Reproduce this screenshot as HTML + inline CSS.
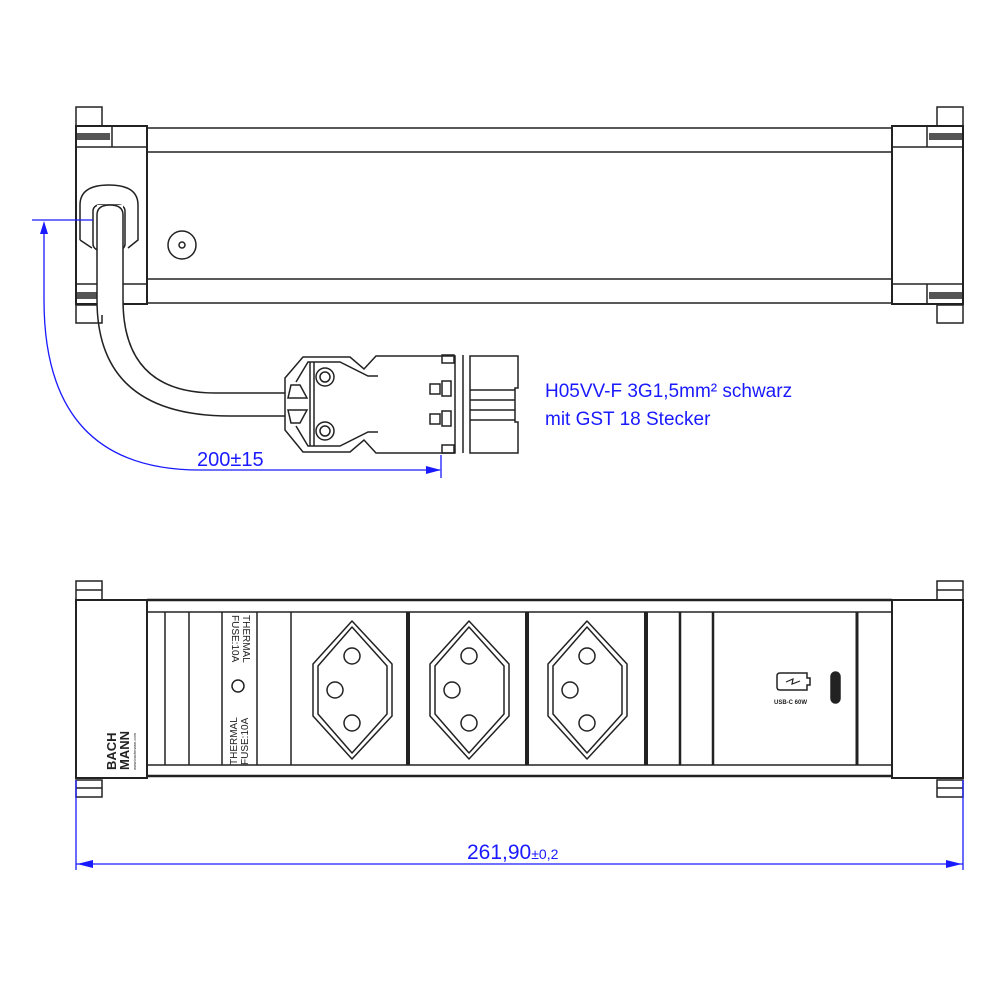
<!DOCTYPE html>
<html><head><meta charset="utf-8"><style>
html,body{margin:0;padding:0;background:#fff}
svg{display:block}
text{font-family:"Liberation Sans",sans-serif}
</style></head><body>
<svg width="1000" height="1000" viewBox="0 0 1000 1000" xmlns="http://www.w3.org/2000/svg">
<g fill="none" stroke="#222" stroke-width="1.5">
<!-- TOP VIEW -->
<rect x="76" y="107" width="26" height="19"/>
<rect x="76" y="305" width="26" height="18"/>
<rect x="937" y="107" width="26" height="19"/>
<rect x="937" y="305" width="26" height="18"/>
<rect x="76" y="126" width="71" height="178" stroke-width="2"/>
<rect x="892" y="126" width="71" height="178" stroke-width="2"/>
<line x1="76" y1="147" x2="147" y2="147"/><line x1="76" y1="284" x2="147" y2="284"/>
<line x1="892" y1="147" x2="963" y2="147"/><line x1="892" y1="284" x2="963" y2="284"/>
<line x1="112" y1="126" x2="112" y2="147"/><line x1="927" y1="126" x2="927" y2="147"/>
<line x1="112" y1="284" x2="112" y2="304"/><line x1="927" y1="284" x2="927" y2="304"/>
<rect x="77" y="133" width="33" height="7" fill="#555" stroke="none"/>
<rect x="77" y="292" width="33" height="7" fill="#555" stroke="none"/>
<rect x="929" y="133" width="33" height="7" fill="#555" stroke="none"/>
<rect x="929" y="292" width="33" height="7" fill="#555" stroke="none"/>
<line x1="147" y1="128" x2="892" y2="128"/>
<line x1="147" y1="152" x2="892" y2="152"/>
<line x1="147" y1="279" x2="892" y2="279"/>
<line x1="147" y1="303" x2="892" y2="303"/>
<path d="M80 240 V205 Q80 185 109 185 Q138 185 138 205 V240 L128 248 M80 240 L92 248"/>
<rect x="93" y="205" width="32" height="45" rx="6"/>
<circle cx="182" cy="245" r="14"/><circle cx="182" cy="245" r="3"/>
<!-- cable -->
<rect x="97" y="205" width="26" height="110" fill="#fff" stroke="none"/>
<path d="M97 215 Q97 205 110 205 Q123 205 123 215 V300 Q123 393 215 393 H285"/>
<path d="M97 215 V300 Q97 416 230 416 H285"/>
<!-- connector -->
<path d="M285 378 L303 357 H350 L364 369 L376 356 H455 V453 H376 L364 440 L350 452 H303 L285 430 Z" fill="#fff"/>
<path d="M296 382 L308 362 H340 L368 376 H378 M296 426 L308 446 H340 L368 432 H378"/>
<line x1="310" y1="362" x2="310" y2="446"/>
<line x1="314" y1="362" x2="314" y2="446"/>
<path d="M288 398 H307 L300 385 H291 Z M288 410 H307 L300 423 H291 Z"/>
<circle cx="325" cy="377" r="9"/><circle cx="325" cy="377" r="5"/>
<circle cx="325" cy="431" r="9"/><circle cx="325" cy="431" r="5"/>
<rect x="430" y="384" width="10" height="10"/><rect x="442" y="381" width="9" height="15"/>
<rect x="430" y="414" width="10" height="10"/><rect x="442" y="411" width="9" height="15"/>
<rect x="442" y="355" width="12" height="8"/><rect x="442" y="445" width="12" height="8"/>
<line x1="463" y1="355" x2="463" y2="453"/>
<path d="M470 356 H518 V388 H515 V422 H518 V453 H470 Z"/>
<line x1="470" y1="390" x2="515" y2="390"/><line x1="470" y1="400" x2="515" y2="400"/><line x1="470" y1="410" x2="515" y2="410"/><line x1="470" y1="420" x2="515" y2="420"/>
<!-- BOTTOM VIEW -->
<rect x="76" y="581" width="26" height="19"/>
<rect x="76" y="780" width="26" height="17"/>
<rect x="937" y="581" width="26" height="19"/>
<rect x="937" y="780" width="26" height="17"/>
<line x1="76" y1="590" x2="102" y2="590"/><line x1="76" y1="788" x2="102" y2="788"/>
<line x1="937" y1="590" x2="963" y2="590"/><line x1="937" y1="788" x2="963" y2="788"/>
<rect x="76" y="600" width="71" height="178" stroke-width="2"/>
<rect x="892" y="600" width="71" height="178" stroke-width="2"/>
<line x1="147" y1="600" x2="892" y2="600" stroke-width="2.5"/>
<line x1="147" y1="612" x2="892" y2="612"/>
<line x1="147" y1="765" x2="892" y2="765"/>
<line x1="147" y1="776" x2="892" y2="776" stroke-width="2.5"/>
<g>
<line x1="165" y1="612" x2="165" y2="765"/><line x1="189" y1="612" x2="189" y2="765"/>
<line x1="222" y1="612" x2="222" y2="765"/><line x1="257" y1="612" x2="257" y2="765"/>
<line x1="291" y1="612" x2="291" y2="765"/>
<line x1="408" y1="612" x2="408" y2="765" stroke-width="4"/>
<line x1="527" y1="612" x2="527" y2="765" stroke-width="4"/>
<line x1="646" y1="612" x2="646" y2="765" stroke-width="4"/>
<line x1="680" y1="612" x2="680" y2="765" stroke-width="2.5"/>
<line x1="713" y1="612" x2="713" y2="765" stroke-width="2.5"/>
<line x1="857" y1="612" x2="857" y2="765" stroke-width="3"/>
</g>
<circle cx="238" cy="686" r="6"/>
<!-- sockets -->
<g id="s">
<path d="M352 621 L392 664 V716 L352 759 L313 716 V664 Z" stroke-linejoin="round"/>
<path d="M352 627 L387 666 V714 L352 753 L318 714 V666 Z" stroke-linejoin="round"/>
<circle cx="352" cy="656" r="8"/><circle cx="335" cy="690" r="8"/><circle cx="352" cy="723" r="8"/>
</g>
<use href="#s" x="117"/><use href="#s" x="235"/>
<!-- usb -->
<path d="M780 673 H807 V678 H810 V685 H807 V690 H780 Q777 690 777 687 V676 Q777 673 780 673 Z"/>
<path d="M786 682 L793 679 L792 684 L800 681" stroke-width="1.2"/>
<rect x="831" y="672" width="9" height="31" rx="4.5" fill="#222"/>
<!-- dims -->
<g stroke="#1a1aff" stroke-width="1.3">
<line x1="32" y1="220" x2="93" y2="220"/>
<path d="M44 228 V300 Q44 470 200 470 H440"/>
<line x1="441" y1="455" x2="441" y2="478"/>
<line x1="76" y1="780" x2="76" y2="870"/>
<line x1="963" y1="780" x2="963" y2="870"/>
<line x1="76" y1="864" x2="963" y2="864"/>
</g>
</g>
<g fill="#1a1aff">
<path d="M44 221 L40 234 L48 234 Z"/>
<path d="M441 470 L426 466 L426 474 Z"/>
<path d="M77 864 L93 860 L93 868 Z"/>
<path d="M962 864 L946 860 L946 868 Z"/>
<text x="197" y="466" font-size="20">200±15</text>
<text x="545" y="397" font-size="19">H05VV-F 3G1,5mm² schwarz</text>
<text x="545" y="425" font-size="19">mit GST 18 Stecker</text>
<text x="467" y="859" font-size="21">261,90<tspan font-size="14">±0,2</tspan></text>
</g>
<g fill="#222">
<text transform="translate(237,765) rotate(-90)" font-size="10">THERMAL</text>
<text transform="translate(248,765) rotate(-90)" font-size="10">FUSE:10A</text>
<text transform="translate(243,615) rotate(90)" font-size="10">THERMAL</text>
<text transform="translate(232,615) rotate(90)" font-size="10">FUSE:10A</text>
<text transform="translate(116,770) rotate(-90)" font-size="13" font-weight="bold">BACH</text>
<text transform="translate(129,770) rotate(-90)" font-size="13" font-weight="bold">MANN</text>
<text transform="translate(136,770) rotate(-90)" font-size="4">www.bachmann.com</text>
<text x="774" y="704" font-size="6" font-weight="bold">USB-C 60W</text>
</g>
</svg>
</body></html>
